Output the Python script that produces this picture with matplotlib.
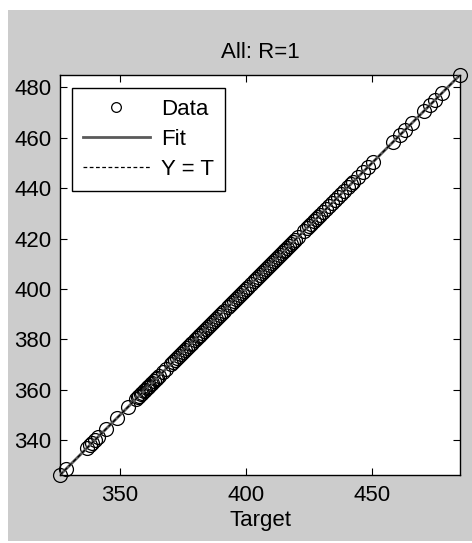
import matplotlib
matplotlib.use("Agg")
import matplotlib.pyplot as plt
from matplotlib.patches import Rectangle
import numpy as np

plt.rcParams['font.family'] = ['Liberation Sans', 'DejaVu Sans']

title_text = "All: R=1"
x_label = "Target"
legend_labels = ["Data", "Fit", "Y = T"]
x_ticks = [350, 400, 450]
y_ticks = [340, 360, 380, 400, 420, 440, 460, 480]

targets = [
    326.3, 328.5, 337.0, 338.0, 339.0, 340.0, 341.5, 344.5, 348.7, 353.4,
    356.5, 357.2, 357.8, 358.3, 358.9, 359.4, 360.0, 360.6, 361.1, 361.7,
    362.3, 362.9, 363.5, 364.2, 364.8, 365.5, 367.0, 368.4,
    370.2, 371.0, 371.9, 372.6, 373.4, 374.1, 375.0, 375.7, 376.5, 377.3,
    378.1, 378.8, 379.6, 380.4, 381.2, 381.9, 382.7, 383.5, 384.3, 385.0,
    385.8, 386.6, 387.4, 388.1, 388.9, 389.7, 390.5, 391.3, 392.7, 393.6,
    394.4, 395.2, 396.0, 396.8, 397.5, 398.3, 399.1, 399.9, 400.6, 402.0,
    403.1, 403.9, 404.7, 405.5, 406.3, 407.0, 407.8, 408.6, 409.4, 410.2,
    411.0, 411.7, 412.5, 413.3, 414.1, 414.9, 415.6, 416.4, 417.2, 418.0,
    418.8, 419.5, 420.6, 423.0, 424.2, 425.0, 425.9, 426.8, 427.7, 428.6,
    429.5, 430.4, 431.9, 433.0, 434.1, 435.2, 436.5, 437.6, 439.0, 440.3,
    441.5, 442.5, 444.5, 446.3, 448.5, 450.5, 458.4, 461.0, 463.0, 465.7,
    470.4, 473.0, 475.0, 477.7, 484.8,
]
outputs = [
    326.3, 328.5, 337.0, 338.0, 339.0, 340.0, 341.5, 344.5, 348.7, 353.4,
    356.5, 357.2, 357.8, 358.3, 358.9, 359.4, 360.0, 360.6, 361.1, 361.7,
    362.3, 362.9, 363.5, 364.2, 364.8, 365.5, 367.0, 368.4,
    370.2, 371.0, 371.9, 372.6, 373.4, 374.1, 375.0, 375.7, 376.5, 377.3,
    378.1, 378.8, 379.6, 380.4, 381.2, 381.9, 382.7, 383.5, 384.3, 385.0,
    385.8, 386.6, 387.4, 388.1, 388.9, 389.7, 390.5, 391.3, 392.7, 393.6,
    394.4, 395.2, 396.0, 396.8, 397.5, 398.3, 399.1, 399.9, 400.6, 402.0,
    403.1, 403.9, 404.7, 405.5, 406.3, 407.0, 407.8, 408.6, 409.4, 410.2,
    411.0, 411.7, 412.5, 413.3, 414.1, 414.9, 415.6, 416.4, 417.2, 418.0,
    418.8, 419.5, 420.6, 423.0, 424.2, 425.0, 425.9, 426.8, 427.7, 428.6,
    429.5, 430.4, 431.9, 433.0, 434.1, 435.2, 436.5, 437.6, 439.0, 440.3,
    441.5, 442.5, 444.5, 446.3, 448.5, 450.5, 458.4, 461.0, 463.0, 465.7,
    470.4, 473.0, 475.0, 477.7, 484.8,
]

W, H = 472, 543
fig = plt.figure(figsize=(W / 100, H / 100), dpi=100, facecolor='white')
fig.patches.append(Rectangle((8 / W, 2 / H), 1 - 8 / W, (H - 12) / H,
                             transform=fig.transFigure, facecolor='#cccccc',
                             edgecolor='none', zorder=-10))

ax = fig.add_axes([60 / W, (H - 475) / H, 400 / W, 400 / H])
ax.set_facecolor('white')

t = np.array(targets)
y = np.array(outputs)
lo, hi = t.min(), t.max()

ax.plot(t, y, linestyle='none', marker='o', markersize=10,
        markerfacecolor='none', markeredgecolor='black', markeredgewidth=0.9,
        label=legend_labels[0], zorder=2, clip_on=False)
coef = np.polyfit(t, y, 1)
fx = np.array([lo, hi])
ax.plot(fx, np.polyval(coef, fx), color='#5a5a5a', linewidth=2,
        label=legend_labels[1], zorder=3)
ax.plot(fx, fx, color='black', linestyle=(0, (3, 2)), linewidth=0.9,
        label=legend_labels[2], zorder=4)

ax.set_xlim(lo, hi)
ax.set_ylim(lo, hi)
ax.set_xticks(x_ticks)
ax.set_yticks(y_ticks)
ax.tick_params(direction='in', length=5, width=0.8, top=True, right=True,
               labelsize=16, colors='black')
ax.tick_params(axis='x', pad=7)
ax.tick_params(axis='y', pad=6)
for s in ax.spines.values():
    s.set_linewidth(1.0)
    s.set_color('black')

ax.set_title(title_text, fontsize=16, pad=12)
ax.set_xlabel(x_label, fontsize=16, labelpad=3)

leg = ax.legend(loc='upper left', bbox_to_anchor=(0.03, 0.9675),
                borderaxespad=0, frameon=True, fancybox=False, shadow=False,
                fontsize=16, numpoints=1, handlelength=3.0,
                handletextpad=0.5, labelspacing=0.4, borderpad=0.5)
leg.get_frame().set_edgecolor('black')
leg.get_frame().set_linewidth(1.0)
leg.get_frame().set_alpha(1)
leg.legend_handles[0].set_markersize(7)

fig.savefig('out.png', dpi=100, facecolor=fig.get_facecolor())
